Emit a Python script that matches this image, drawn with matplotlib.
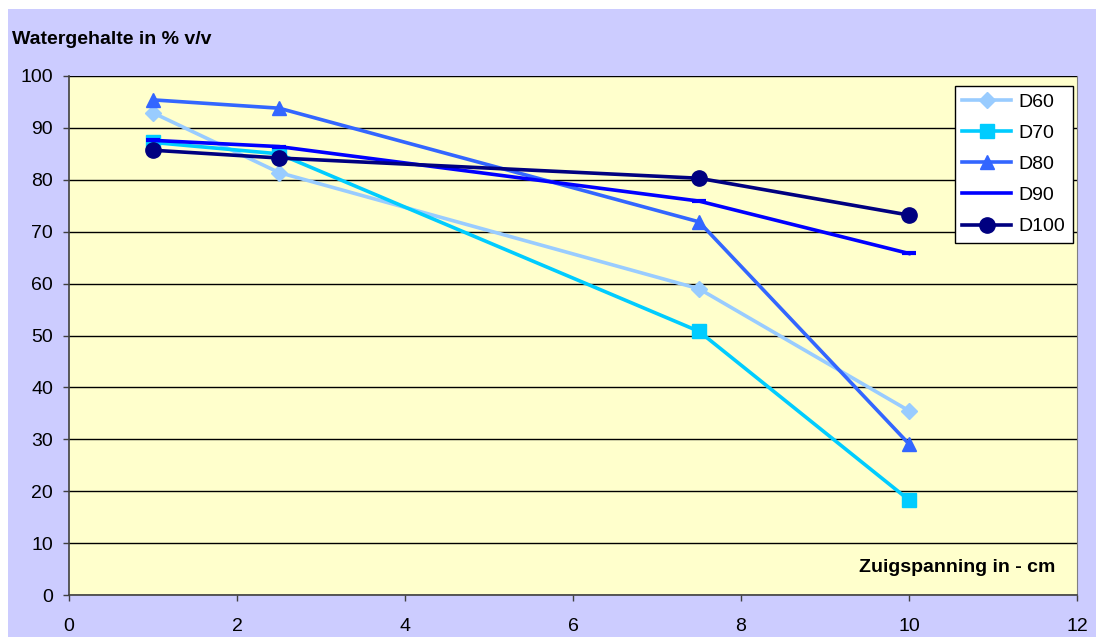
import matplotlib
matplotlib.use("Agg")
import matplotlib.pyplot as plt
from matplotlib.patches import Rectangle

plt.rcParams['font.family'] = ['Liberation Sans', 'DejaVu Sans']

x_vals = [1, 2.5, 7.5, 10]
d60 = [92.9, 81.4, 59.0, 35.5]
d70 = [87.2, 85.0, 50.8, 18.3]
d80 = [95.4, 93.8, 71.9, 29.1]
d90 = [87.6, 86.4, 75.9, 65.8]
d100 = [85.7, 84.2, 80.3, 73.2]

series_names = ["D60", "D70", "D80", "D90", "D100"]
series_values = [d60, d70, d80, d90, d100]
colors = ["#99CCFF", "#00CCFF", "#3366FF", "#0000FF", "#000080"]
markers = ["D", "s", "^", "_", "o"]
msizes = [8, 10, 10, 10, 11]

W, H = 1096, 637
fig = plt.figure(figsize=(W / 100, H / 100), dpi=100)
fig.patch.set_facecolor("white")
fig.patches.append(Rectangle((8 / W, 0), 1 - 8 / W, 1 - 9 / H,
                             transform=fig.transFigure, facecolor="#CCCCFF",
                             edgecolor="none", zorder=-10))

left, right, top, bottom = 69, 1077, 76, 595
ax = fig.add_axes([left / W, 1 - bottom / H, (right - left) / W, (bottom - top) / H])
ax.set_facecolor("#FFFFCC")

for name, vals, c, m, ms in zip(series_names, series_values, colors, markers, msizes):
    kw = dict(color=c, lw=2.6, marker=m, markersize=ms, markerfacecolor=c,
              markeredgecolor=c, label=name, clip_on=False, zorder=3)
    if m == "_":
        kw.update(markeredgewidth=3, markersize=10)
    ax.plot(x_vals, vals, **kw)

ax.set_xlim(0, 12)
ax.set_ylim(0, 100)
ax.set_xticks(range(0, 13, 2))
ax.set_yticks(range(0, 101, 10))
ax.yaxis.grid(True, color="black", lw=1)
ax.set_axisbelow(True)
ax.tick_params(axis="both", labelsize=14, direction="out", length=4.5,
               color="#404040", width=1)
ax.tick_params(axis="x", pad=12)
ax.tick_params(axis="y", pad=7)
for s in ["left", "bottom"]:
    ax.spines[s].set_color("#404040")
    ax.spines[s].set_linewidth(1.2)
ax.spines["top"].set_visible(False)
ax.spines["right"].set_color("#808080")

leg = ax.legend(loc="upper right",
                bbox_to_anchor=((1073 - left) / (right - left), 1 - (86 - top) / (bottom - top)),
                fontsize=14, frameon=True, fancybox=False, edgecolor="black",
                facecolor="white", framealpha=1, handlelength=2.5,
                borderpad=0.39, labelspacing=0.69, handletextpad=0.4,
                borderaxespad=0)
leg.get_frame().set_linewidth(1)
for h in leg.legend_handles:
    if h.get_marker() == "_":
        h.set_marker("None")

fig.text(12 / W, 1 - 39.5 / H, "Watergehalte in % v/v", fontsize=14,
         fontweight="bold", va="center", ha="left")
fig.text(1055 / W, 1 - 567.5 / H, "Zuigspanning in - cm", fontsize=14,
         fontweight="bold", va="center", ha="right")

fig.savefig("out.png", dpi=100)
